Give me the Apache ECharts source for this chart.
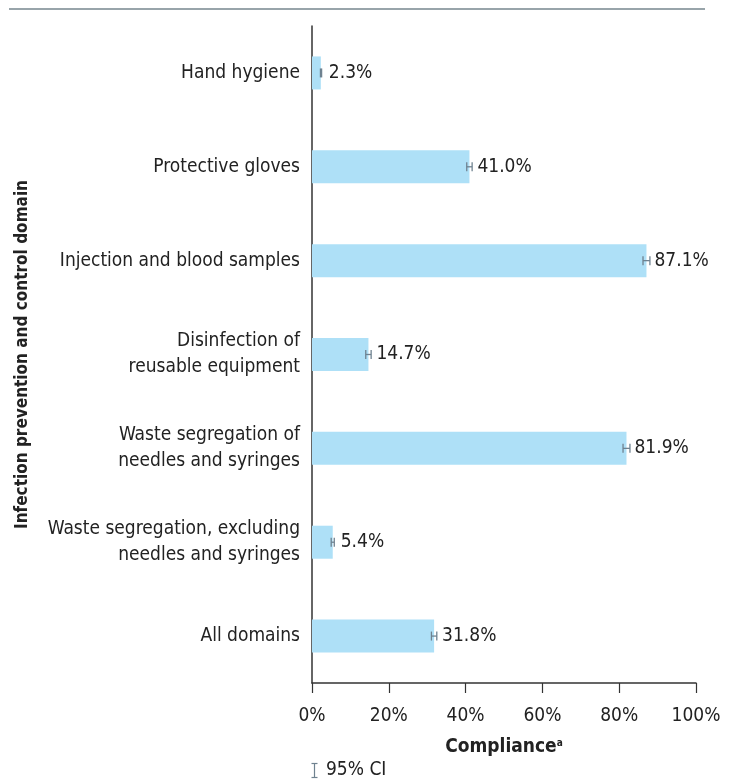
<!DOCTYPE html>
<html><head><meta charset="utf-8">
<script src="https://cdn.jsdelivr.net/npm/echarts@6/dist/echarts.min.js"></script>
<style>html,body{margin:0;padding:0;background:#fff}#c{width:734px;height:780px}</style>
</head><body><div id="c"></div>
<script>
const categories = ["Hand hygiene","Protective gloves","Injection and blood samples","Disinfection of\nreusable equipment","Waste segregation of\nneedles and syringes","Waste segregation, excluding\nneedles and syringes","All domains"];
const compliance = [2.3, 41.0, 87.1, 14.7, 81.9, 5.4, 31.8];
const ciLow  = [2.2, 40.3, 86.2, 14.0, 81.0, 5.0, 31.1];
const ciHigh = [2.5, 41.7, 88.0, 15.4, 82.8, 5.8, 32.5];
const xTicks = [0, 20, 40, 60, 80, 100];

const FONT = "'DejaVu Sans Condensed','Liberation Sans Narrow','Roboto',sans-serif";
const chart = echarts.init(document.getElementById('c'));
const errData = categories.map((c,i)=>[i, ciLow[i], ciHigh[i]]);
chart.setOption({
  animation:false,
  grid:{left:312,right:38,top:26,bottom:97,containLabel:false,outerBoundsMode:'none'},
  xAxis:{type:'value',min:0,max:100,interval:20,
    axisLine:{show:true,lineStyle:{color:'#333',width:1.5}},
    axisTick:{show:true,length:10,lineStyle:{color:'#333',width:1.2}},
    splitLine:{show:false},
    axisLabel:{formatter:v=>v+'%',fontFamily:FONT,fontSize:19,color:'#222',margin:24},
    name:'{b|Compliance}{s|a}',nameLocation:'middle',nameGap:55,
    nameTextStyle:{rich:{b:{fontFamily:FONT,fontWeight:'bold',fontSize:19,color:'#222'},s:{fontFamily:FONT,fontWeight:'bold',fontSize:10,color:'#222',verticalAlign:'top',padding:[0,0,8,0]}}}
  },
  yAxis:{type:'category',data:categories,inverse:true,
    axisLine:{show:true,lineStyle:{color:'#333',width:1.5}},
    axisTick:{show:false},
    axisLabel:{fontFamily:FONT,fontSize:19,color:'#222',margin:12,lineHeight:26,align:'right'},
    name:'Infection prevention and control domain',nameLocation:'middle',nameGap:281,nameRotate:90,
    nameTextStyle:{fontFamily:FONT,fontWeight:'bold',fontSize:17,color:'#222'}
  },
  series:[
    {type:'bar',data:compliance,barWidth:33,itemStyle:{color:'#aee0f7'},
     label:{show:true,position:'right',distance:8,formatter:p=>p.value.toFixed(1)+'%',fontFamily:FONT,fontSize:19,color:'#222'}},
    {type:'custom',data:errData,encode:{x:[1,2],y:0},z:5,
     renderItem:function(params,api){
       const y=api.value(0);
       const a=api.coord([api.value(1),y]);
       const b=api.coord([api.value(2),y]);
       const h=4.5;
       const st={stroke:'#6f8290',lineWidth:1.3};
       return {type:'group',children:[
         {type:'line',shape:{x1:a[0],y1:a[1],x2:b[0],y2:b[1]},style:st},
         {type:'line',shape:{x1:a[0],y1:a[1]-h,x2:a[0],y2:a[1]+h},style:st},
         {type:'line',shape:{x1:b[0],y1:b[1]-h,x2:b[0],y2:b[1]+h},style:st}
       ]};
     }}
  ],
  graphic:[
    {type:'line',shape:{x1:9,y1:9,x2:705,y2:9},style:{stroke:'#98a4aa',lineWidth:2}},
    {type:'line',shape:{x1:314.5,y1:763,x2:314.5,y2:778},style:{stroke:'#6f8290',lineWidth:1.2}},
    {type:'line',shape:{x1:311.5,y1:763.5,x2:317.5,y2:763.5},style:{stroke:'#6f8290',lineWidth:1.2}},
    {type:'line',shape:{x1:311.5,y1:777.5,x2:317.5,y2:777.5},style:{stroke:'#6f8290',lineWidth:1.2}},
    {type:'text',x:326,y:770,style:{text:'95% CI',font:'19px '+FONT,fill:'#222',verticalAlign:'middle'}}
  ]
});
</script></body></html>
